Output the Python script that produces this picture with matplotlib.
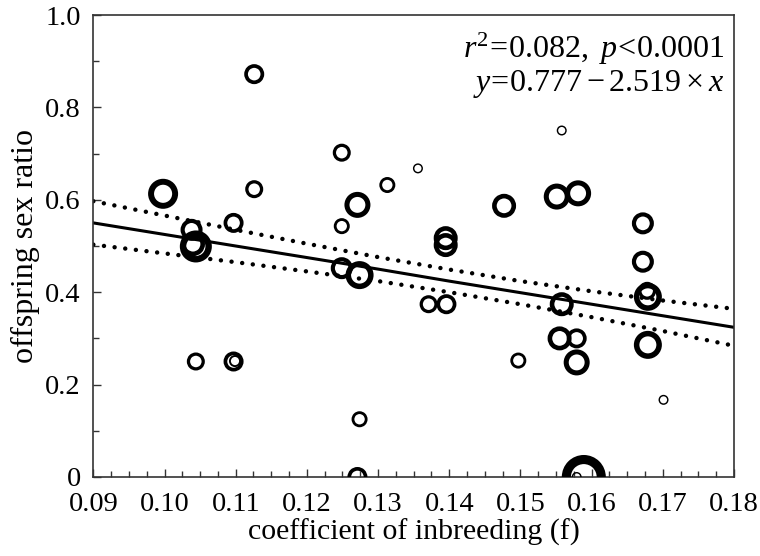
import numpy as np
import matplotlib
matplotlib.use("Agg")
import matplotlib.pyplot as plt
from matplotlib.ticker import MultipleLocator

plt.rcParams['font.family'] = ['Liberation Serif', 'DejaVu Serif']
plt.rcParams['mathtext.fontset'] = 'custom'
plt.rcParams['mathtext.rm'] = 'Liberation Serif'
plt.rcParams['mathtext.it'] = 'Liberation Serif:italic'

# inbreeding coefficient, offspring sex ratio, brood size (circle size)
inbreeding = [0.0998, 0.1126, 0.1126, 0.1097, 0.1038, 0.1044, 0.1040, 0.1044,
              0.1097, 0.1099, 0.1249, 0.1249, 0.1271, 0.1313, 0.1356, 0.1249,
              0.1274, 0.1274, 0.1271, 0.1395, 0.1395, 0.1371, 0.1396, 0.1477,
              0.1497, 0.1551, 0.1581, 0.1558, 0.1558, 0.1555, 0.1579, 0.1579,
              0.1589, 0.1579, 0.1672, 0.1672, 0.1679, 0.1678, 0.1679, 0.1701]
sex_ratio = [0.613, 0.872, 0.623, 0.550, 0.535, 0.499, 0.504, 0.250,
             0.250, 0.251, 0.702, 0.543, 0.589, 0.632, 0.668, 0.452,
             0.437, 0.125, 0.0, 0.517, 0.502, 0.374, 0.374, 0.587,
             0.252, 0.607, 0.614, 0.750, 0.374, 0.300, 0.300, 0.248,
             0.0, 0.0, 0.549, 0.466, 0.390, 0.403, 0.286, 0.167]
brood = [11, 6, 5, 6, 7, 12, 8, 5,
         6, 2, 5, 4, 9, 4, 1, 7,
         10, 4, 6, 8, 8, 5, 6, 8,
         4, 9, 9, 1, 8, 8, 6, 9,
         18, 1, 7, 7, 10, 5, 10, 1]

# regression line and its confidence band
fit_x = [0.09, 0.10, 0.11, 0.12, 0.13, 0.14, 0.15, 0.16, 0.17, 0.18]
fit_y = [0.550, 0.525, 0.500, 0.475, 0.450, 0.424, 0.399, 0.374, 0.349, 0.324]
ci_upper = [0.597, 0.566, 0.535, 0.505, 0.476, 0.449, 0.424, 0.402, 0.382, 0.364]
ci_lower = [0.503, 0.484, 0.465, 0.445, 0.424, 0.400, 0.374, 0.346, 0.316, 0.284]

fig = plt.figure(figsize=(7.6, 5.56), dpi=100)
ax = fig.add_axes([0.1228, 0.1421, 0.8430, 0.8309])

# circle sizes: outer radius (px) grows with brood size, so does ring width
b = np.array(brood, dtype=float)
lw_px = 1.0 + 0.45 * b
r_out = 4.0 + b
r_path = r_out - lw_px / 2
size_pt = (2 * r_path * 0.72) ** 2
ax.scatter(inbreeding, sex_ratio, s=size_pt, facecolors='none',
           edgecolors='black', linewidths=lw_px * 0.72, zorder=3)

ax.plot(fit_x, fit_y, color='black', lw=2.2, zorder=2)
for band in (ci_upper, ci_lower):
    ax.plot(fit_x, band, color='black', lw=3.2, linestyle=(0, (0.01, 2.4)),
            dash_capstyle='round', zorder=2)

ax.set_xlim(0.09, 0.18)
ax.set_ylim(0, 1.0)
ax.xaxis.set_major_locator(MultipleLocator(0.01))
ax.xaxis.set_minor_locator(MultipleLocator(0.0025))
ax.yaxis.set_major_locator(MultipleLocator(0.2))
ax.yaxis.set_minor_locator(MultipleLocator(0.1))
ax.set_xticklabels([f"{v:.2f}" for v in ax.get_xticks()])
ax.set_yticks([0, 0.2, 0.4, 0.6, 0.8, 1.0])
ax.set_yticklabels(['0', '0.2', '0.4', '0.6', '0.8', '1.0'])
ax.tick_params(which='both', direction='in', labelsize=20.5,
               color='#333333', top=False, right=False)
ax.tick_params(axis='x', which='both', pad=11)
ax.tick_params(axis='y', which='both', pad=9)
ax.tick_params(which='major', length=6, width=1)
ax.tick_params(which='minor', length=4, width=1)

for s in ax.spines.values():
    s.set_linewidth(1.2)
    s.set_color('#333333')

ax.set_xlabel('coefficient of inbreeding (f)', fontsize=21.5, labelpad=1)
ax.set_ylabel('offspring sex ratio', fontsize=23, labelpad=4)

ax.text(0.985, 0.965, r"$\mathit{r}^2\!=\!0.082,\ \mathit{p}\!<\!0.0001$",
        transform=ax.transAxes, ha='right', va='top', fontsize=23)
ax.text(0.985, 0.885, r"$\mathit{y}\!=\!0.777-2.519\times\mathit{x}$",
        transform=ax.transAxes, ha='right', va='top', fontsize=23)

fig.savefig('out.png', dpi=100)
